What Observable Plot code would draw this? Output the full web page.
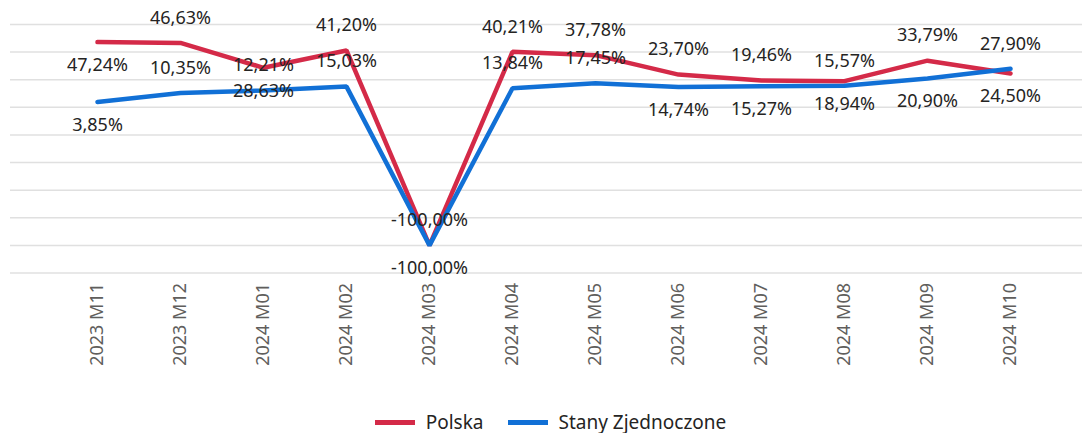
<!DOCTYPE html>
<html>
<head>
<meta charset="utf-8">
<script src="https://cdn.jsdelivr.net/npm/d3@7"></script>
<script src="https://cdn.jsdelivr.net/npm/@observablehq/plot@0.6"></script>
<style>
  html, body { margin: 0; padding: 0; background: #fff; }
  body { width: 1083px; height: 433px; overflow: hidden; font-family: "Segoe UI", "Noto Sans", "Open Sans", sans-serif; }
  #legend { display: flex; justify-content: center; align-items: center; gap: 24px; padding-left: 18px; margin-top: 10px; height: 24px; font-size: 19px; color: #252423; }
  .item { display: flex; align-items: center; gap: 11px; }
  .sw { width: 40px; height: 5px; display: inline-block; }
</style>
</head>
<body>
<div id="chart"></div>
<div id="legend"></div>
<script>
const months = ["2023 M11","2023 M12","2024 M01","2024 M02","2024 M03","2024 M04","2024 M05","2024 M06","2024 M07","2024 M08","2024 M09","2024 M10"];
const polska = [47.24, 46.63, 28.63, 41.20, -100.00, 40.21, 37.78, 23.70, 19.46, 18.94, 33.79, 24.50];
const stany  = [3.85, 10.35, 12.21, 15.03, -100.00, 13.84, 17.45, 14.74, 15.27, 15.57, 20.90, 27.90];
const polskaLabelSide = ["below","above","below","above","above","above","above","above","above","below","above","below"];
const stanyLabelSide  = ["below","above","above","above","below","above","above","below","below","above","below","above"];
const gridTicks = [-120, -100, -80, -60, -40, -20, 0, 20, 40, 60];
const seriesNames = ["Polska", "Stany Zjednoczone"];
const colors = ["#d42a48", "#1170d6"];

const fmt = v => v.toFixed(2).replace(".", ",") + "%";
const rows = (vals, sides, name) => months.map((m, i) => ({month: m, value: vals[i], side: sides[i], series: name, label: fmt(vals[i])}));
const dP = rows(polska, polskaLabelSide, seriesNames[0]);
const dS = rows(stany, stanyLabelSide, seriesNames[1]);
const allLabels = dP.concat(dS);

const labelStyle = {x: "month", y: "value", text: "label", fill: "#252423", fontSize: 18};

const chart = Plot.plot({
  width: 1083,
  height: 400,
  marginTop: 24,
  marginBottom: 127.5,
  marginLeft: 10,
  marginRight: 1,
  style: {fontFamily: "'Segoe UI', 'Noto Sans', 'Open Sans', sans-serif", background: "#fff"},
  x: {type: "point", domain: months, range: [94, 1012.5], padding: 0, label: null},
  y: {domain: [-120, 60], axis: null},
  marks: [
    Plot.ruleY(gridTicks, {stroke: "#e0e0e0", strokeWidth: 1.5}),
    Plot.axisX({tickRotate: -90, tickSize: 0, tickPadding: 10, fontSize: 18, fill: "#605e5c", label: null}),
    Plot.line(dP, {x: "month", y: "value", stroke: colors[0], strokeWidth: 4.5, strokeLinejoin: "miter"}),
    Plot.line(dS, {x: "month", y: "value", stroke: colors[1], strokeWidth: 4.5, strokeLinejoin: "miter"}),
    Plot.text(allLabels.filter(d => d.side === "above"), {...labelStyle, dy: -25}),
    Plot.text(allLabels.filter(d => d.side === "below"), {...labelStyle, dy: 23})
  ]
});
document.getElementById("chart").appendChild(chart);

const legend = document.getElementById("legend");
seriesNames.forEach((n, i) => {
  const it = document.createElement("span");
  it.className = "item";
  it.innerHTML = `<span class="sw" style="background:${colors[i]}"></span><span>${n}</span>`;
  legend.appendChild(it);
});
</script>
</body>
</html>
